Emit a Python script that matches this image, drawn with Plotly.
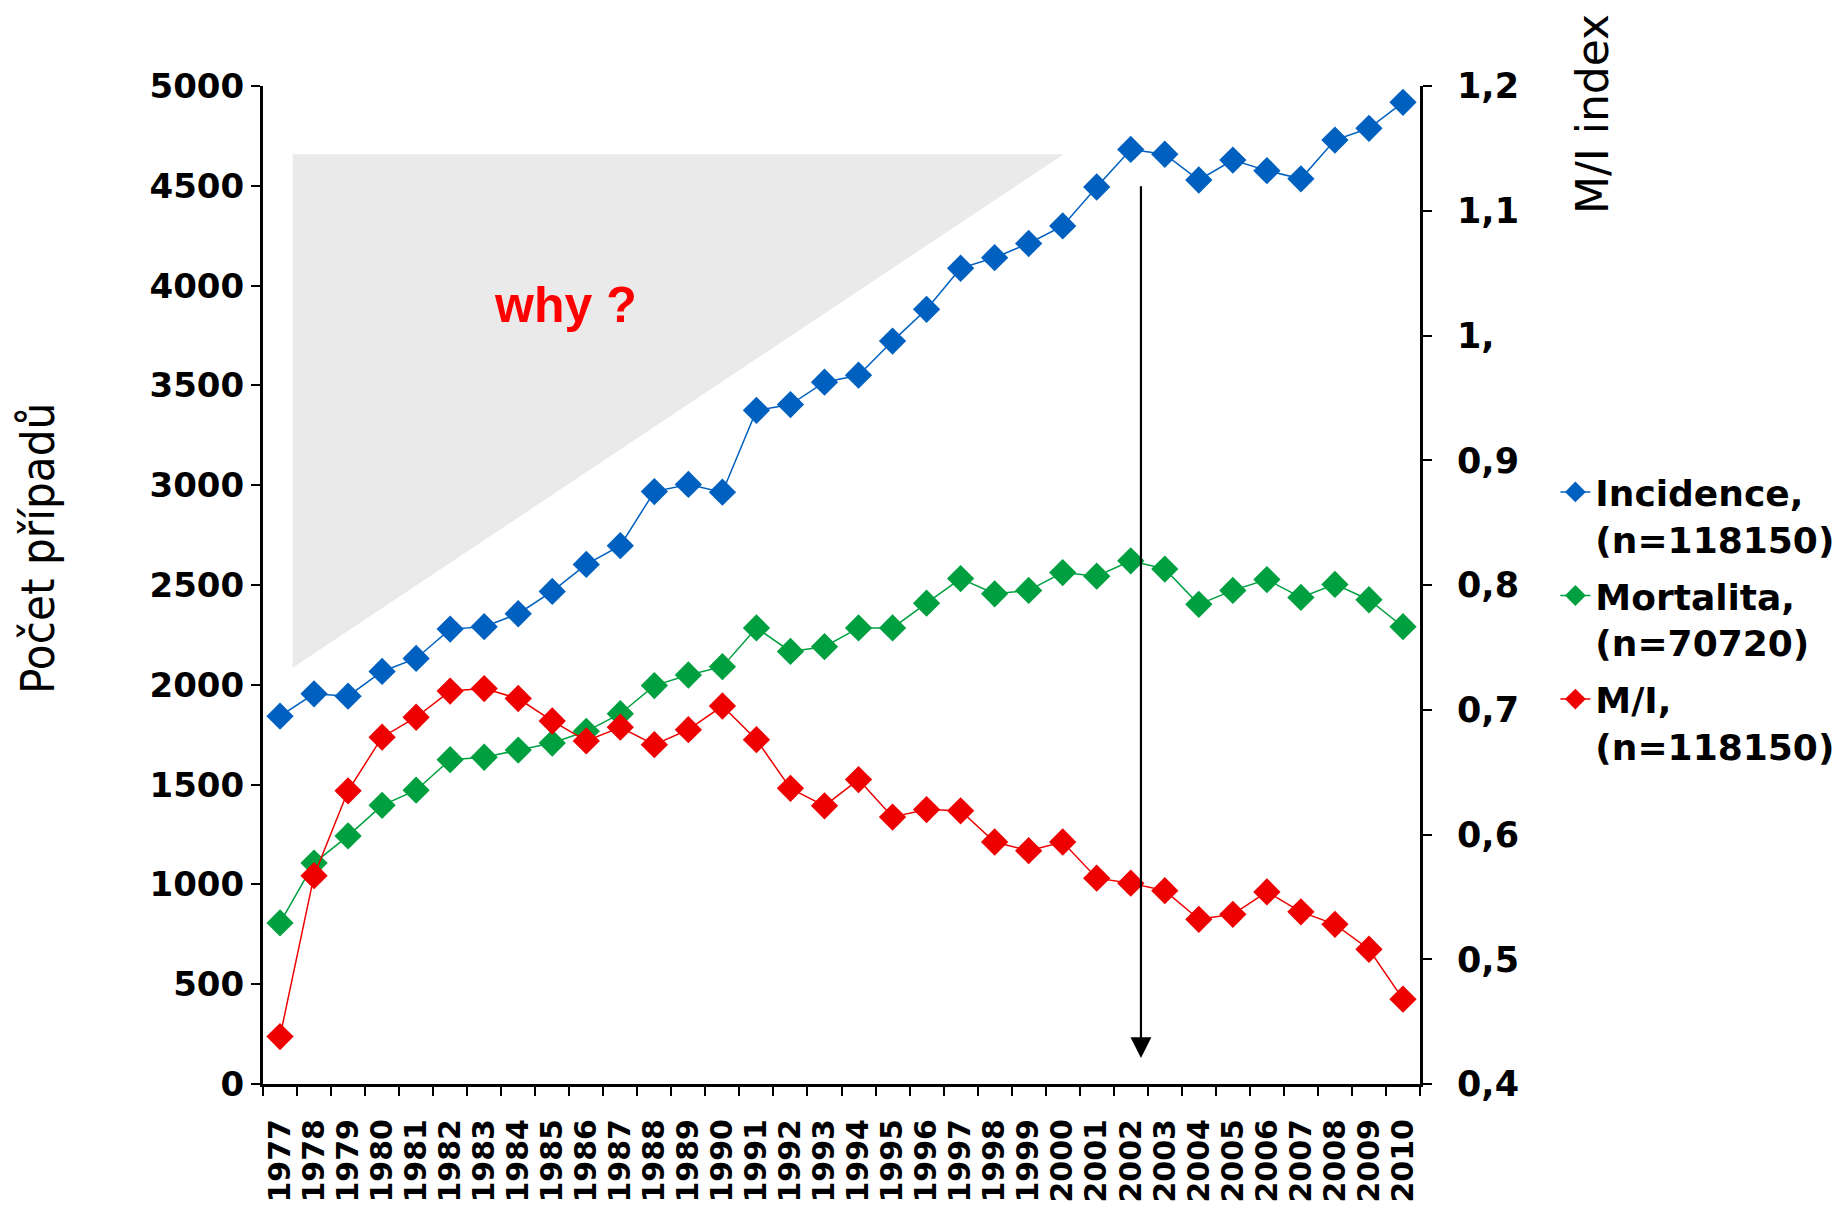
import plotly.graph_objects as go

years = [str(y) for y in range(1977, 2011)]
incidence = [1843, 1955, 1943, 2067, 2132, 2279, 2291, 2356, 2468, 2603, 2697, 2968, 3004, 2965,
             3375, 3404, 3516, 3551, 3722, 3881, 4087, 4140, 4211, 4299, 4494, 4682, 4658, 4529,
             4629, 4576, 4535, 4729, 4788, 4918]
mortalita = [807, 1107, 1243, 1396, 1472, 1625, 1637, 1673, 1708, 1767, 1855, 1996, 2049, 2091,
             2285, 2167, 2191, 2285, 2285, 2409, 2532, 2456, 2473, 2562, 2544, 2621, 2580, 2403,
             2473, 2527, 2438, 2503, 2426, 2291]
mi_index = [0.438, 0.567, 0.635, 0.678, 0.694, 0.715, 0.717, 0.709, 0.691, 0.675, 0.686, 0.672,
            0.684, 0.703, 0.676, 0.637, 0.623, 0.644, 0.614, 0.620, 0.619, 0.594, 0.587, 0.594,
            0.565, 0.561, 0.555, 0.532, 0.536, 0.554, 0.538, 0.528, 0.508, 0.468]

left_ticks = [0, 500, 1000, 1500, 2000, 2500, 3000, 3500, 4000, 4500, 5000]
right_ticks = [0.4, 0.5, 0.6, 0.7, 0.8, 0.9, 1.0, 1.1, 1.2]
right_ticktext = ["0,4", "0,5", "0,6", "0,7", "0,8", "0,9", "1,", "1,1", "1,2"]

names = ["Incidence,<br>(n=118150)", "Mortalita,<br>(n=70720)", "M/I,<br>(n=118150)"]
colors = ["#0060C0", "#00A040", "#EE0000"]

FONT = "DejaVu Sans"

# plot-area geometry in screen pixels (used to place annotations)
PL, PR, PT, PB = 263, 1420, 86, 1084
def px(x):
    return (x - PL) / (PR - PL)
def py(y):
    return (PB - y) / (PB - PT)

fig = go.Figure()
series = [(incidence, "y"), (mortalita, "y"), (mi_index, "y2")]
for i, (vals, ax) in enumerate(series):
    fig.add_trace(go.Scatter(x=years, y=vals, name=names[i], mode="lines+markers", yaxis=ax,
                             legendgroup=f"g{i}",
                             line=dict(color=colors[i], width=1.5),
                             marker=dict(symbol="diamond", size=21, color=colors[i])))

# grey triangle
fig.add_shape(type="path", xref="x", yref="y",
              path="M 0.37,2085 L 0.37,4658 L 23.03,4658 Z",
              fillcolor="#EAEAEA", line=dict(width=0), layer="below")

# arrow
fig.add_annotation(x=25.3, y=130, ax=25.3, ay=4505, xref="x", yref="y", axref="x", ayref="y",
                   text="", showarrow=True, arrowhead=2, arrowsize=1.9, arrowwidth=2.2,
                   arrowcolor="black")

fig.add_annotation(x=px(565), y=py(305), xref="paper", yref="paper", text="<b>why ?</b>",
                   xanchor="center", yanchor="middle", showarrow=False,
                   font=dict(family="Liberation Sans", size=50, color="#FF0000"))

# axis titles
fig.add_annotation(x=px(37), y=py(549), xref="paper", yref="paper", xanchor="center",
                   yanchor="middle", text="Počet případů", textangle=-90, showarrow=False,
                   font=dict(family="DejaVu Sans Condensed", size=47, color="black"))
fig.add_annotation(x=px(1592), y=py(114), xref="paper", yref="paper", xanchor="center",
                   yanchor="middle", text="M/I index", textangle=-90, showarrow=False,
                   font=dict(family=FONT, size=44, color="black"))

fig.update_layout(
    width=1843, height=1208,
    margin=dict(l=PL - 8, r=1843 - PR + 8, t=PT - 8, b=1208 - PB + 8),
    paper_bgcolor="white", plot_bgcolor="white",
    font=dict(family=FONT, color="black"),
    showlegend=True,
    legend=dict(x=1.117, y=py(462), xanchor="left", yanchor="top", valign="top",
                tracegroupgap=7,
                font=dict(family=FONT, size=36, color="black", weight="bold"),
                bgcolor="rgba(0,0,0,0)", itemwidth=30),
    xaxis=dict(type="category", range=[-0.5, 33.5], tickangle=-90, tickson="boundaries",
               tickmode="array", tickvals=years, ticktext=years, ticklabelstandoff=20,
               ticks="outside", ticklen=9, tickwidth=2, tickcolor="black",
               showline=True, linecolor="black", linewidth=3, showgrid=False,
               tickfont=dict(family=FONT, size=30, color="black", weight="bold")),
    yaxis=dict(range=[0, 5000], tickvals=left_ticks, ticks="outside", ticklen=9, tickwidth=2,
               tickcolor="black", showline=True, linecolor="black", linewidth=3, showgrid=False,
               zeroline=False,
               tickfont=dict(family=FONT, size=34, color="black", weight="bold")),
    yaxis2=dict(range=[0.4, 1.2], tickvals=right_ticks, ticktext=right_ticktext, overlaying="y",
                side="right", ticks="outside", ticklen=9, tickwidth=2, tickcolor="black",
                showline=True, linecolor="black", linewidth=3, showgrid=False, zeroline=False,
                ticklabelstandoff=18,
                tickfont=dict(family=FONT, size=35, color="black", weight="bold")),
)

fig.write_html("out.html")
